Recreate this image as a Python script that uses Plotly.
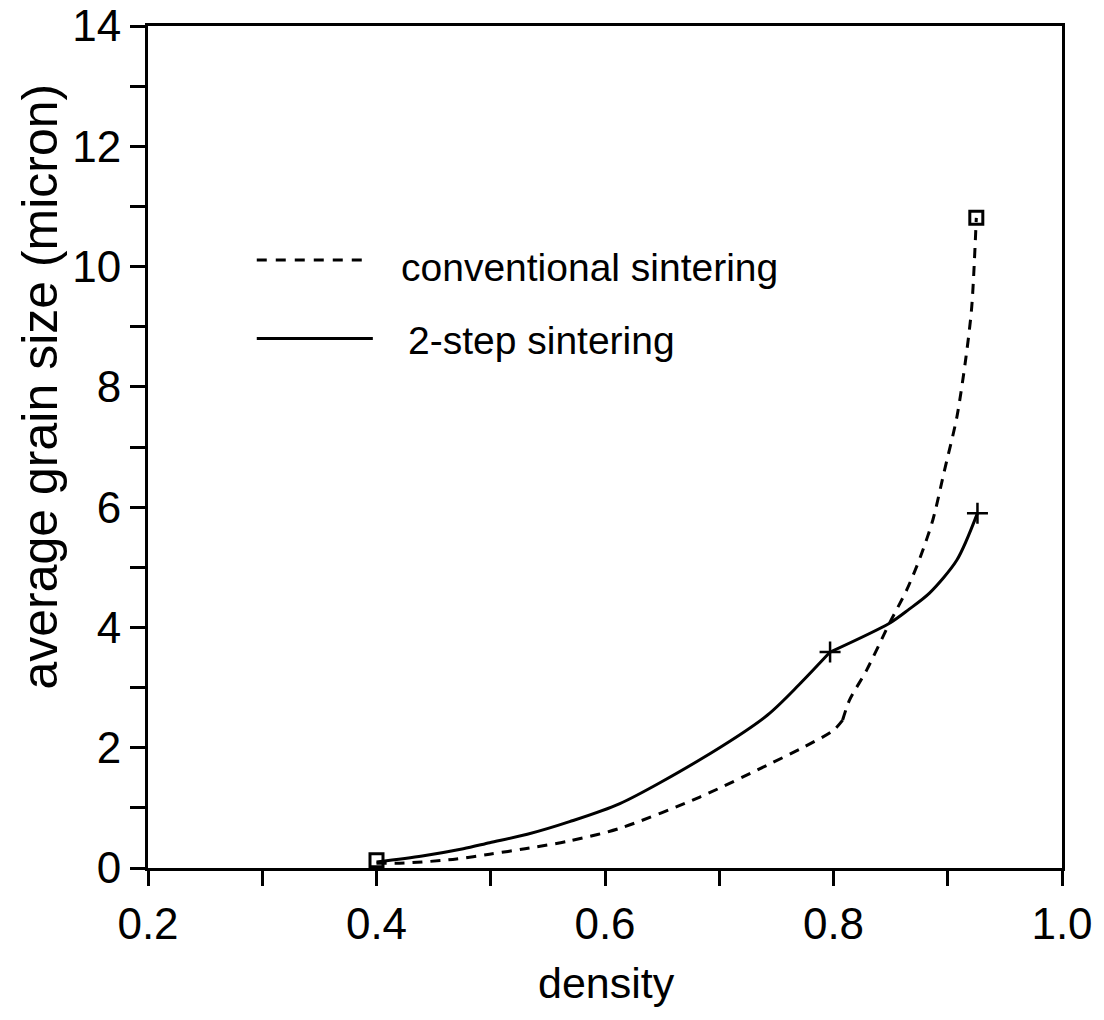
import plotly.graph_objects as go

# ---- data ----
conv_density = [0.400, 0.420, 0.440, 0.470, 0.499, 0.530, 0.569, 0.613, 0.683, 0.742, 0.775, 0.800,
                0.808, 0.814, 0.829, 0.849, 0.864, 0.876, 0.887, 0.897, 0.908, 0.916, 0.921, 0.925]
conv_grain = [0.08, 0.08, 0.10, 0.15, 0.23, 0.32, 0.45, 0.66, 1.18, 1.71, 2.02, 2.29,
              2.46, 2.79, 3.29, 4.07, 4.62, 5.17, 5.79, 6.60, 7.50, 8.50, 9.33, 10.81]
conv_kink = 12  # index where the dashed curve bends sharply
conv_marker_density = [0.400, 0.925]
conv_marker_grain = [0.13, 10.81]

two_density = [0.400, 0.440, 0.476, 0.499, 0.532, 0.569, 0.613, 0.683, 0.742, 0.770, 0.797,
               0.849, 0.866, 0.884, 0.908, 0.926]
two_grain = [0.10, 0.20, 0.32, 0.42, 0.56, 0.77, 1.07, 1.80, 2.54, 3.05, 3.59,
             4.07, 4.30, 4.57, 5.12, 5.90]
two_kink = 10
two_marker_density = [0.797, 0.926]
two_marker_grain = [3.59, 5.90]

x_tickvals = [0.2, 0.3, 0.4, 0.5, 0.6, 0.7, 0.8, 0.9, 1.0]
x_ticktext = ["0.2", "", "0.4", "", "0.6", "", "0.8", "", "1.0"]
y_tickvals = list(range(0, 15))
y_ticktext = [str(v) if v % 2 == 0 else "" for v in y_tickvals]

legend_labels = ["conventional sintering", "2-step sintering"]
x_title = "density"
y_title = "average grain size (micron)"

FONT = "Liberation Sans, Arial, Helvetica, sans-serif"

fig = go.Figure()

line_conv = dict(color="black", width=3, dash="10px,8px")
line_two = dict(color="black", width=3)

fig.add_trace(go.Scatter(x=conv_density[:conv_kink + 1], y=conv_grain[:conv_kink + 1], mode="lines",
                         line=dict(shape="spline", smoothing=0.8, **line_conv), showlegend=False))
fig.add_trace(go.Scatter(x=conv_density[conv_kink:], y=conv_grain[conv_kink:], mode="lines",
                         line=dict(shape="spline", smoothing=0.8, **line_conv), showlegend=False))
fig.add_trace(go.Scatter(x=two_density[:two_kink + 1], y=two_grain[:two_kink + 1], mode="lines",
                         line=dict(shape="spline", smoothing=0.8, **line_two), showlegend=False))
fig.add_trace(go.Scatter(x=two_density[two_kink:], y=two_grain[two_kink:], mode="lines",
                         line=dict(shape="spline", smoothing=0.8, **line_two), showlegend=False))

fig.add_trace(go.Scatter(x=conv_marker_density, y=conv_marker_grain, mode="markers",
                         marker=dict(symbol="square-open", size=13, color="black",
                                     line=dict(width=3, color="black")),
                         showlegend=False))
fig.add_trace(go.Scatter(x=two_marker_density, y=two_marker_grain, mode="markers",
                         marker=dict(symbol="cross-thin", size=15, color="black",
                                     line=dict(width=2.5, color="black")),
                         showlegend=False))

# in-plot legend (sample lines + labels)
fig.add_shape(type="line", xref="paper", yref="paper", x0=0.119, x1=0.234, y0=0.722, y1=0.722,
              line=dict(color="black", width=3, dash="10px,9px"))
fig.add_shape(type="line", xref="paper", yref="paper", x0=0.119, x1=0.246, y0=0.629, y1=0.629,
              line=dict(color="black", width=3))
fig.add_annotation(xref="paper", yref="paper", x=0.275, y=0.713, text=legend_labels[0],
                   showarrow=False, xanchor="left", yanchor="middle",
                   font=dict(family=FONT, size=39, color="black"))
fig.add_annotation(xref="paper", yref="paper", x=0.282, y=0.627, text=legend_labels[1],
                   showarrow=False, xanchor="left", yanchor="middle",
                   font=dict(family=FONT, size=39, color="black"))

# axis titles
fig.add_annotation(xref="paper", yref="paper", x=0.502, y=-0.136, text=x_title,
                   showarrow=False, xanchor="center", yanchor="middle",
                   font=dict(family=FONT, size=43, color="black"))
fig.add_annotation(xref="paper", yref="paper", x=-0.118, y=0.572, text=y_title,
                   showarrow=False, xanchor="center", yanchor="middle", textangle=-90,
                   font=dict(family=FONT, size=50, color="black"))

axis_common = dict(showline=True, linewidth=3, linecolor="black", mirror=True,
                   ticks="outside", ticklen=15, tickwidth=3, tickcolor="black",
                   showgrid=False, zeroline=False, automargin=False,
                   ticklabeloverflow="allow",
                   tickfont=dict(family=FONT, size=44, color="black"))

fig.update_xaxes(range=[0.2, 1.0], tickmode="array", tickvals=x_tickvals, ticktext=x_ticktext,
                 **axis_common)
fig.update_yaxes(range=[0, 14], tickmode="array", tickvals=y_tickvals, ticktext=y_ticktext,
                 **axis_common)

# plot area at x 148-1062, y 26-868 of the 1104x1020 page
fig.update_layout(width=1104, height=1020,
                  margin=dict(l=148, r=42, t=26, b=152),
                  paper_bgcolor="white", plot_bgcolor="white",
                  showlegend=False, hovermode=False)

fig.write_html("out.html", config={"displayModeBar": False},
               post_script="document.body.style.margin='0px';")
